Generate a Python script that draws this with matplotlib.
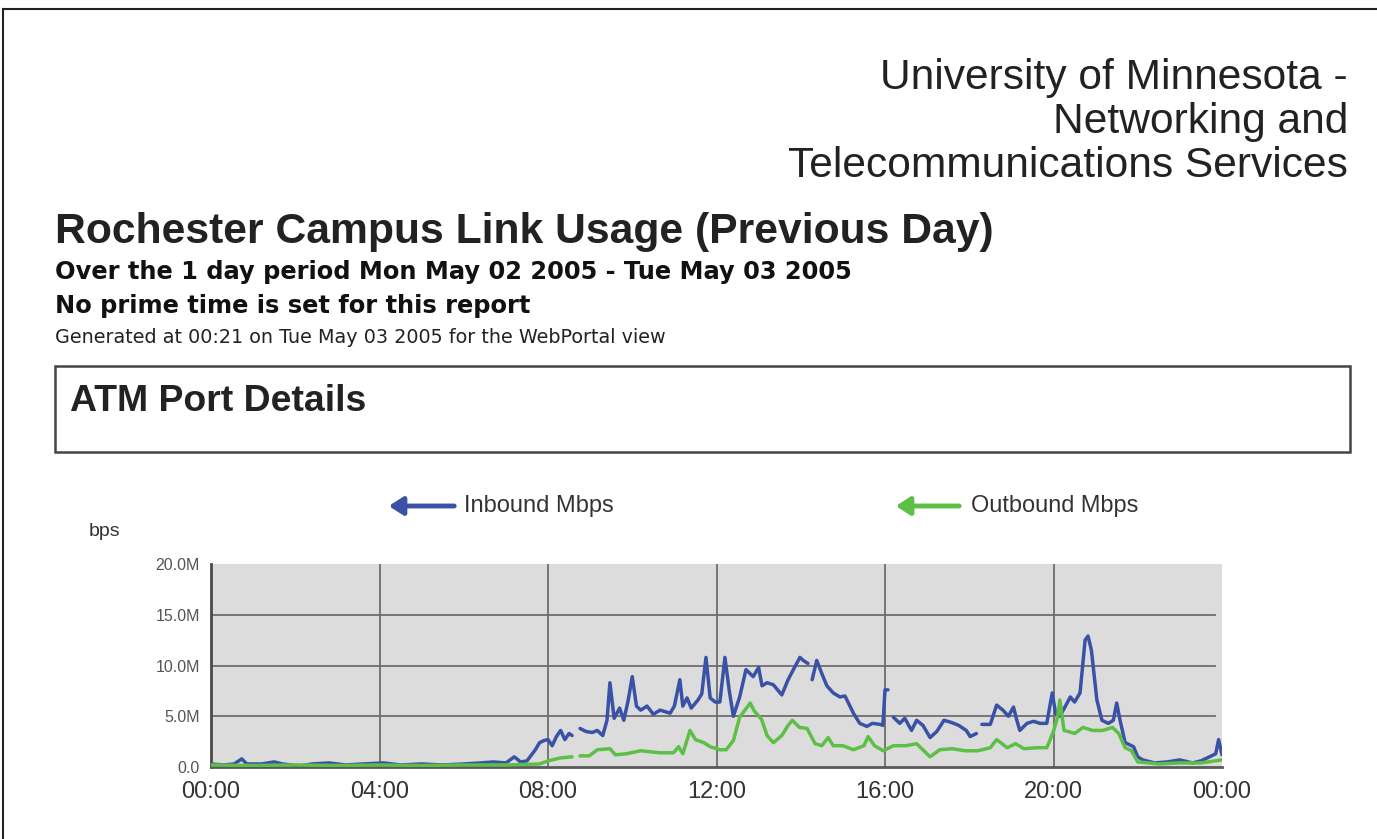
import numpy as np
import matplotlib
matplotlib.use("Agg")
import matplotlib.pyplot as plt
from matplotlib.patches import Rectangle, FancyArrowPatch
from matplotlib.lines import Line2D

W, H = 1377, 839
nan = float("nan")

# ---------------- data (hours of day, Mbps) ----------------
inbound_hours = [0.0, 0.3, 0.55, 0.73, 0.85, 1.2, 1.5, 1.7, 2.1, 2.4, 2.8, 3.2, 3.6, 4.1, 4.5,
                 5.0, 5.5, 6.0, 6.4, 6.7, 7.0, 7.2, 7.35, 7.5, 7.7, 7.8, 7.9, 8.0, 8.1, 8.2,
                 8.3, 8.4, 8.5, 8.57, 8.65, 8.76, 8.9, 9.05, 9.17, 9.3, 9.4, 9.47, 9.57, 9.7,
                 9.8, 9.9, 10.0, 10.1, 10.2, 10.35, 10.5, 10.66, 10.9, 11.0, 11.13, 11.2, 11.3,
                 11.4, 11.56, 11.65, 11.75, 11.85, 11.97, 12.08, 12.2, 12.3, 12.4, 12.55, 12.7,
                 12.87, 13.0, 13.08, 13.2, 13.35, 13.55, 13.7, 13.8, 13.98, 14.06, 14.17, 14.22,
                 14.27, 14.38, 14.5, 14.62, 14.77, 14.93, 15.05, 15.25, 15.4, 15.57, 15.7, 15.88,
                 15.95, 16.0, 16.07, 16.13, 16.2, 16.35, 16.47, 16.63, 16.75, 16.9, 17.07, 17.23,
                 17.4, 17.57, 17.75, 17.93, 18.02, 18.17, 18.24, 18.3, 18.5, 18.65, 18.8, 18.93,
                 19.05, 19.13, 19.2, 19.37, 19.53, 19.68, 19.84, 19.97, 20.05, 20.15, 20.27, 20.4,
                 20.5, 20.63, 20.75, 20.82, 20.9, 21.03, 21.15, 21.3, 21.42, 21.5, 21.58, 21.7,
                 21.9, 22.0, 22.12, 22.4, 22.7, 23.0, 23.3, 23.5, 23.7, 23.85, 23.92, 24.0]
inbound_mbps = [0.3, 0.2, 0.3, 0.8, 0.3, 0.3, 0.5, 0.3, 0.1, 0.3, 0.4, 0.2, 0.3, 0.4, 0.2,
                0.3, 0.2, 0.3, 0.4, 0.5, 0.4, 1.0, 0.5, 0.6, 1.7, 2.4, 2.6, 2.7, 2.1, 3.0,
                3.6, 2.7, 3.3, 3.1, nan, 3.8, 3.5, 3.4, 3.6, 3.1, 4.6, 8.3, 4.8, 5.8,
                4.6, 6.5, 8.9, 6.0, 5.6, 6.0, 5.2, 5.6, 5.3, 6.0, 8.6, 6.0, 6.8,
                5.8, 6.6, 7.2, 10.8, 6.8, 6.4, 6.4, 10.8, 7.6, 5.0, 6.9, 9.6,
                8.9, 9.8, 8.0, 8.3, 8.1, 7.1, 8.6, 9.4, 10.8, 10.5, 10.2, nan,
                8.6, 10.5, 9.2, 8.0, 7.3, 6.9, 7.0, 5.3, 4.3, 4.0, 4.3, 4.2,
                4.1, 7.6, 7.6, nan, 4.9, 4.3, 4.8, 3.6, 4.6, 4.1, 2.9, 3.5,
                4.6, 4.4, 4.1, 3.6, 3.0, 3.3, nan, 4.2, 4.2, 6.1, 5.6, 5.0,
                5.9, 4.6, 3.6, 4.3, 4.5, 4.3, 4.3, 7.3, 5.3, 5.0, 5.9, 6.9,
                6.4, 7.3, 12.5, 12.9, 11.5, 6.6, 4.6, 4.3, 4.6, 6.3, 4.6, 2.4,
                2.0, 1.0, 0.7, 0.4, 0.5, 0.7, 0.4, 0.6, 1.0, 1.3, 2.7, 1.2]

outbound_hours = [0.0, 1.0, 2.0, 3.0, 4.0, 5.0, 6.0, 7.0, 7.8, 8.0, 8.3, 8.57, 8.65, 8.76, 8.98,
                  9.17, 9.47, 9.6, 9.85, 10.2, 10.66, 10.98, 11.1, 11.2, 11.37, 11.5, 11.7, 11.85,
                  12.08, 12.23, 12.4, 12.55, 12.8, 12.9, 13.07, 13.2, 13.35, 13.55, 13.7, 13.8,
                  13.97, 14.15, 14.34, 14.5, 14.65, 14.77, 15.0, 15.25, 15.5, 15.6, 15.75, 15.96,
                  16.2, 16.5, 16.75, 17.07, 17.3, 17.6, 17.9, 18.2, 18.5, 18.65, 18.9, 19.1, 19.3,
                  19.6, 19.84, 20.0, 20.1, 20.15, 20.25, 20.35, 20.5, 20.7, 20.93, 21.17, 21.4,
                  21.55, 21.7, 21.85, 22.0, 22.5, 23.0, 23.5, 24.0]
outbound_mbps = [0.2, 0.15, 0.2, 0.15, 0.2, 0.15, 0.2, 0.2, 0.3, 0.6, 0.9, 1.0, nan, 1.1, 1.1,
                 1.7, 1.8, 1.2, 1.3, 1.6, 1.4, 1.4, 2.0, 1.3, 3.6, 2.7, 2.4, 2.0,
                 1.7, 1.7, 2.6, 4.9, 6.3, 5.5, 4.7, 3.1, 2.4, 3.1, 4.1, 4.6,
                 3.9, 3.8, 2.3, 2.1, 2.9, 2.1, 2.1, 1.7, 2.1, 3.0, 2.1, 1.6,
                 2.1, 2.1, 2.3, 1.0, 1.7, 1.8, 1.6, 1.6, 1.9, 2.7, 1.9, 2.3, 1.8,
                 1.9, 1.9, 3.5, 5.0, 6.6, 3.6, 3.5, 3.3, 3.9, 3.6, 3.6, 3.9,
                 3.3, 1.9, 1.6, 0.5, 0.3, 0.4, 0.4, 0.7]

series_names = ["Inbound Mbps", "Outbound Mbps"]
series_colors = ["#3a52a6", "#5cbf46"]
y_ticks = [0, 5, 10, 15, 20]
y_tick_labels = ["0.0", "5.0M", "10.0M", "15.0M", "20.0M"]
x_ticks = [0, 4, 8, 12, 16, 20, 24]
x_tick_labels = ["00:00", "04:00", "08:00", "12:00", "16:00", "20:00", "00:00"]

header_lines = ["University of Minnesota -", "Networking and", "Telecommunications Services"]
title = "Rochester Campus Link Usage (Previous Day)"
subtitle1 = "Over the 1 day period Mon May 02 2005 - Tue May 03 2005"
subtitle2 = "No prime time is set for this report"
generated = "Generated at 00:21 on Tue May 03 2005 for the WebPortal view"
section = "ATM Port Details"
y_unit = "bps"

# ---------------- figure ----------------
fig = plt.figure(figsize=(W / 100, H / 100), dpi=100)
fig.patch.set_facecolor("white")
renderer = fig.canvas.get_renderer()


def fx(x):
    return x / W


def fy(y):
    return 1 - y / H


def put(s, x, y, size, target_w=None, ha="left", va="baseline", **kw):
    t = fig.text(fx(x), fy(y), s, fontsize=size, ha=ha, va=va, **kw)
    if target_w:
        w = t.get_window_extent(renderer).width
        t.set_fontsize(size * target_w / w)
    return t


# outer frame (top and left edges)
fig.add_artist(Line2D([fx(3), fx(3)], [fy(9), 0], transform=fig.transFigure, color="#222", lw=1.5))
fig.add_artist(Line2D([fx(3), 1], [fy(9), fy(9)], transform=fig.transFigure, color="#222", lw=1.5))

sans = ["Liberation Sans", "DejaVu Sans"]
wide = ["DejaVu Sans"]

t0 = put(header_lines[0], 1348, 89, 28, target_w=468, ha="right", family=sans, color="#222")
hs = t0.get_fontsize()
put(header_lines[1], 1348, 133, hs, ha="right", family=sans, color="#222")
put(header_lines[2], 1348, 177, hs, ha="right", family=sans, color="#222")

put(title, 55, 243, 28, target_w=938, family=sans, weight="bold", color="#222")
ts = put(subtitle1, 55, 279, 16, target_w=803, family=wide, weight="bold", color="#111")
put(subtitle2, 55, 313, ts.get_fontsize(), family=wide, weight="bold", color="#111")
put(generated, 55, 343, 10, target_w=610, family=wide, color="#222")

# section box
fig.add_artist(Rectangle((fx(55), fy(452)), (1350 - 55) / W, (452 - 366) / H,
                         transform=fig.transFigure, facecolor="white", edgecolor="#444", lw=1.8))
put(section, 70, 411, 24, target_w=297, family=sans, weight="bold", color="#222")

# legend
for (x0, x1, tx, tw), name, col in zip([(457, 386, 464, 150), (962, 893, 971, 168)],
                                       series_names, series_colors):
    fig.add_artist(FancyArrowPatch((fx(x0), fy(506)), (fx(x1), fy(506)), transform=fig.transFigure,
                                   arrowstyle="-|>,head_length=0.7,head_width=0.45",
                                   mutation_scale=12, lw=3.5, color=col))
    put(name, tx, 506, 15, target_w=tw, va="center", family=sans, color="#333")

put(y_unit, 89, 532, 14, va="center", family=sans, color="#333")

# ---------------- chart ----------------
ax = fig.add_axes([fx(211), fy(767), (1222 - 211) / W, (767 - 564) / H])
ax.set_facecolor("#dcdcdc")
ax.set_xlim(0, 24)
ax.set_ylim(0, 20)
for t in x_ticks[1:-1]:
    ax.axvline(t, color="#6e6e6e", lw=1.3, zorder=1)
for t in y_ticks[1:-1]:
    ax.axhline(t, xmax=0.993, color="#6e6e6e", lw=1.3, zorder=1)

ax.plot(inbound_hours, inbound_mbps, color=series_colors[0], lw=2.5, zorder=3,
        solid_joinstyle="round", solid_capstyle="round")
ax.plot(outbound_hours, outbound_mbps, color=series_colors[1], lw=2.5, zorder=4,
        solid_joinstyle="round", solid_capstyle="round")

ax.set_xticks(x_ticks)
ax.set_xticklabels(x_tick_labels)
ax.set_yticks(y_ticks)
ax.set_yticklabels(y_tick_labels)
ax.tick_params(axis="both", length=0)
ax.tick_params(axis="x", pad=10, labelsize=17, labelcolor="#333")
ax.tick_params(axis="y", pad=8, labelsize=11.5, labelcolor="#555")
for lab in ax.get_xticklabels() + ax.get_yticklabels():
    lab.set_family(sans)
for side in ["top", "right"]:
    ax.spines[side].set_visible(False)
ax.spines["left"].set_color("#4a4a4a")
ax.spines["left"].set_linewidth(2)
ax.spines["bottom"].set_color("#5a5a5a")
ax.spines["bottom"].set_linewidth(2)

fig.savefig("out.png", dpi=100, facecolor="white")
